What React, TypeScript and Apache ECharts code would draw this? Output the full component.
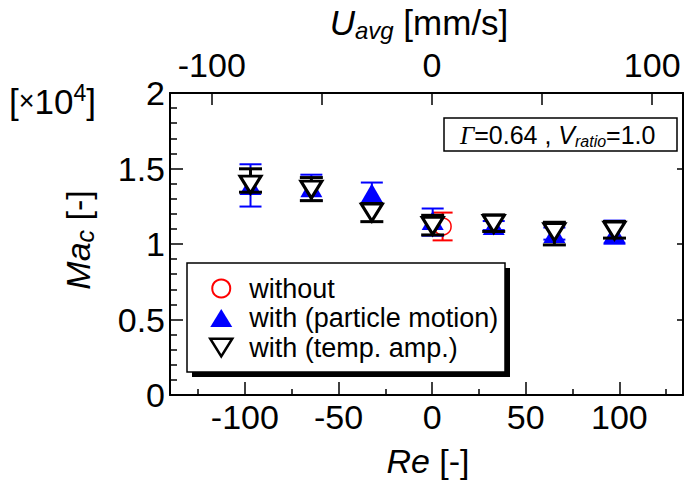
import React, { useEffect, useRef } from 'react';
import * as echarts from 'echarts';

// ---- data ----
const reValues = [-97, -64.5, -32.2, 0.3, 32.9, 65.3, 97.4];

const particleMean = [1.388, 1.373, 1.337, 1.155, 1.122, 1.069, 1.069];
const particleErrUp = [0.14, 0.086, 0.07, 0.08, 0.03, 0.04, 0.086];
const particleErrDown = [0.14, 0.086, 0.07, 0.1, 0.03, 0.04, 0.067];

const tempMean = [1.393, 1.36, 1.208, 1.12, 1.133, 1.079, 1.089];
const tempErrUp = [0.105, 0.08, 0.06, 0.07, 0.06, 0.065, 0.06];
const tempErrDown = [0.05, 0.073, 0.06, 0.06, 0.05, 0.085, 0.05];

const withoutRe = [5.6];
const withoutMean = [1.116];
const withoutErr = [0.092];

const reTicks = [-100, -50, 0, 50, 100];
const reMinorTicks = [-125, -75, -25, 25, 75, 125];
const uTicks = [-100, -50, 0, 50, 100];
const uLabels = [-100, 0, 100];

const seriesNames = ['without', 'with (particle motion)', 'with (temp. amp.)'];

const FONT = "'Liberation Sans', Arial, Helvetica, sans-serif";
const DOWN_TRIANGLE = 'path://M0,0L20,0L10,16Z';

function errRenderer(color: string, lineWidth: number, capHalf: number) {
  return (params: any, api: any) => {
    const x = api.value(0);
    const lo = api.value(1);
    const hi = api.value(2);
    const top = api.coord([x, hi]);
    const bot = api.coord([x, lo]);
    const style = { stroke: color, lineWidth };
    return {
      type: 'group',
      children: [
        { type: 'line', shape: { x1: top[0], y1: top[1], x2: bot[0], y2: bot[1] }, style },
        { type: 'line', shape: { x1: top[0] - capHalf, y1: top[1], x2: top[0] + capHalf, y2: top[1] }, style },
        { type: 'line', shape: { x1: bot[0] - capHalf, y1: bot[1], x2: bot[0] + capHalf, y2: bot[1] }, style },
      ],
    };
  };
}

export default function App() {
  const ref = useRef<HTMLDivElement>(null);
  useEffect(() => {
    document.body.style.margin = '0';
    const chart = echarts.init(ref.current!, null, { renderer: 'svg' });

    const particlePts = reValues.map((x, i) => [x, particleMean[i]]);
    const tempPts = reValues.map((x, i) => [x, tempMean[i]]);
    const withoutPts = withoutRe.map((x, i) => [x, withoutMean[i]]);
    const particleErr = reValues.map((x, i) => [x, particleMean[i] - particleErrDown[i], particleMean[i] + particleErrUp[i]]);
    const tempErr = reValues.map((x, i) => [x, tempMean[i] - tempErrDown[i], tempMean[i] + tempErrUp[i]]);
    const withoutErrPts = withoutRe.map((x, i) => [x, withoutMean[i] - withoutErr[i], withoutMean[i] + withoutErr[i]]);

    const axisLineStyle = { color: '#000', width: 2 };

    chart.setOption({
      animation: false,
      backgroundColor: '#fff',
      textStyle: { fontFamily: FONT },
      grid: { left: 170, top: 93, right: 1, bottom: 88, containLabel: false },
      xAxis: [
        {
          type: 'value', position: 'bottom', min: -140, max: 134,
          axisLine: { show: true, onZero: false, lineStyle: axisLineStyle },
          axisTick: { show: true, inside: true, length: 13, customValues: reTicks, lineStyle: { color: '#000', width: 1.5 } },
          axisLabel: { show: true, customValues: reTicks, fontSize: 34, color: '#000', margin: 5, fontFamily: FONT },
          splitLine: { show: false },
        },
        {
          type: 'value', position: 'bottom', min: -140, max: 134,
          axisLine: { show: false, onZero: false },
          axisTick: { show: true, inside: true, length: 6, customValues: reMinorTicks, lineStyle: { color: '#000', width: 1.5 } },
          axisLabel: { show: false },
          splitLine: { show: false },
        },
        {
          type: 'value', position: 'top', min: -119, max: 114,
          axisLine: { show: true, onZero: false, lineStyle: axisLineStyle },
          axisTick: { show: true, inside: true, length: 12, customValues: uTicks, lineStyle: { color: '#000', width: 1.5 } },
          axisLabel: { show: true, customValues: uLabels, fontSize: 34, color: '#000', margin: 11, fontFamily: FONT },
          splitLine: { show: false },
        },
      ],
      yAxis: [
        {
          type: 'value', position: 'left', min: 0, max: 2, interval: 0.5,
          axisLine: { show: true, onZero: false, lineStyle: axisLineStyle },
          axisTick: { show: true, inside: true, length: 13, lineStyle: { color: '#000', width: 1.5 } },
          minorTick: { show: true, splitNumber: 5, length: 7, lineStyle: { color: '#000', width: 1.5 } },
          axisLabel: { show: true, fontSize: 34, color: '#000', margin: 5, fontFamily: FONT },
          splitLine: { show: false },
          minorSplitLine: { show: false },
        },
        {
          type: 'value', position: 'right', min: 0, max: 2, interval: 0.5,
          axisLine: { show: true, onZero: false, lineStyle: axisLineStyle },
          axisTick: { show: true, inside: true, length: 6, lineStyle: { color: '#000', width: 1.5 } },
          axisLabel: { show: false },
          splitLine: { show: false },
        },
      ],
      legend: {
        show: true,
        selectedMode: false,
        data: [
          { name: seriesNames[0], icon: 'circle' },
          { name: seriesNames[1], icon: 'triangle' },
          { name: seriesNames[2], icon: DOWN_TRIANGLE, itemStyle: { color: '#fff', borderColor: '#000', borderWidth: 2.5 } },
        ],
        orient: 'vertical',
        left: 209,
        top: 275,
        padding: 0,
        itemWidth: 22,
        itemHeight: 18,
        itemGap: 2.5,
        z: 10,
        textStyle: { fontSize: 27, color: '#000', fontFamily: FONT, padding: [0, 0, 0, 12], lineHeight: 24 },
      },
      graphic: [
        { type: 'rect', z: 8, shape: { x: 192, y: 268, width: 318, height: 109 }, style: { fill: '#000' } },
        { type: 'rect', z: 9, shape: { x: 187, y: 263, width: 318, height: 109 }, style: { fill: '#fff', stroke: '#000', lineWidth: 1.5 } },
        { type: 'rect', z: 9, shape: { x: 444, y: 118, width: 233, height: 33 }, style: { fill: '#fff', stroke: '#000', lineWidth: 1.5 } },
        {
          type: 'text', z: 10, x: 460, y: 135,
          style: {
            text: '{g|Γ}=0.64 , {v|V}{s|ratio}=1.0',
            fontSize: 25, fontFamily: FONT, fill: '#000', verticalAlign: 'middle',
            rich: {
              g: { fontSize: 25, fontStyle: 'italic', fontFamily: "'Liberation Serif', 'Times New Roman', serif", lineHeight: 28 },
              v: { fontSize: 25, fontStyle: 'italic', fontFamily: FONT, lineHeight: 28 },
              s: { fontSize: 16, fontStyle: 'italic', fontFamily: FONT, lineHeight: 14, verticalAlign: 'bottom' },
            },
          },
        },
        {
          type: 'text', z: 10, x: 419, y: 22,
          style: {
            text: '{u|U}{s|avg} [mm/s]',
            fontSize: 35, fontFamily: FONT, fill: '#000', align: 'center', verticalAlign: 'middle',
            rich: {
              u: { fontSize: 35, fontStyle: 'italic', fontFamily: FONT, lineHeight: 40 },
              s: { fontSize: 24, fontStyle: 'italic', fontFamily: FONT, lineHeight: 20, verticalAlign: 'bottom' },
            },
          },
        },
        {
          type: 'text', z: 10, x: 428, y: 461,
          style: {
            text: '{i|Re} [-]',
            fontSize: 34, fontFamily: FONT, fill: '#000', align: 'center', verticalAlign: 'middle',
            rich: { i: { fontSize: 34, fontStyle: 'italic', fontFamily: FONT } },
          },
        },
        {
          type: 'text', z: 10, x: 78, y: 240, rotation: Math.PI / 2,
          style: {
            text: '{i|Ma}{s|c} [-]',
            fontSize: 34, fontFamily: FONT, fill: '#000', align: 'center', verticalAlign: 'middle',
            rich: {
              i: { fontSize: 34, fontStyle: 'italic', fontFamily: FONT, lineHeight: 38 },
              s: { fontSize: 25, fontStyle: 'italic', fontFamily: FONT, lineHeight: 22, verticalAlign: 'bottom' },
            },
          },
        },
        {
          type: 'text', z: 10, x: 9, y: 101,
          style: {
            text: '[{x|×}10{p|4}]',
            fontSize: 35, fontFamily: FONT, fill: '#000', verticalAlign: 'middle',
            rich: {
              x: { fontSize: 27, fontFamily: FONT, lineHeight: 40 },
              p: { fontSize: 23, fontFamily: FONT, lineHeight: 22, verticalAlign: 'top' },
            },
          },
        },
      ],
      series: [
        {
          type: 'custom', name: 'without-err', xAxisIndex: 0, yAxisIndex: 0, z: 2,
          renderItem: errRenderer('#ff0000', 2, 10), data: withoutErrPts, encode: { x: 0, y: [1, 2] },
        },
        {
          type: 'scatter', name: seriesNames[0], xAxisIndex: 0, yAxisIndex: 0, z: 3,
          symbol: 'circle', symbolSize: 17, data: withoutPts,
          itemStyle: { color: '#fff', borderColor: '#ff0000', borderWidth: 1.5, opacity: 1 },
        },
        {
          type: 'custom', name: 'particle-err', xAxisIndex: 0, yAxisIndex: 0, z: 4,
          renderItem: errRenderer('#0000ff', 2, 11), data: particleErr, encode: { x: 0, y: [1, 2] },
        },
        {
          type: 'scatter', name: seriesNames[1], xAxisIndex: 0, yAxisIndex: 0, z: 5,
          symbol: 'triangle', symbolSize: [22, 19], data: particlePts,
          itemStyle: { color: '#0000ff', opacity: 1 },
        },
        {
          type: 'custom', name: 'temp-err', xAxisIndex: 0, yAxisIndex: 0, z: 6,
          renderItem: errRenderer('#000000', 3, 11.5), data: tempErr, encode: { x: 0, y: [1, 2] },
        },
        {
          type: 'scatter', name: seriesNames[2], xAxisIndex: 0, yAxisIndex: 0, z: 7,
          symbol: DOWN_TRIANGLE, symbolSize: [21, 17], data: tempPts,
          itemStyle: { color: '#fff', borderColor: '#000', borderWidth: 3, opacity: 1 },
        },
      ],
    });
    return () => chart.dispose();
  }, []);
  return <div ref={ref} style={{ width: 684, height: 483 }} />;
}
